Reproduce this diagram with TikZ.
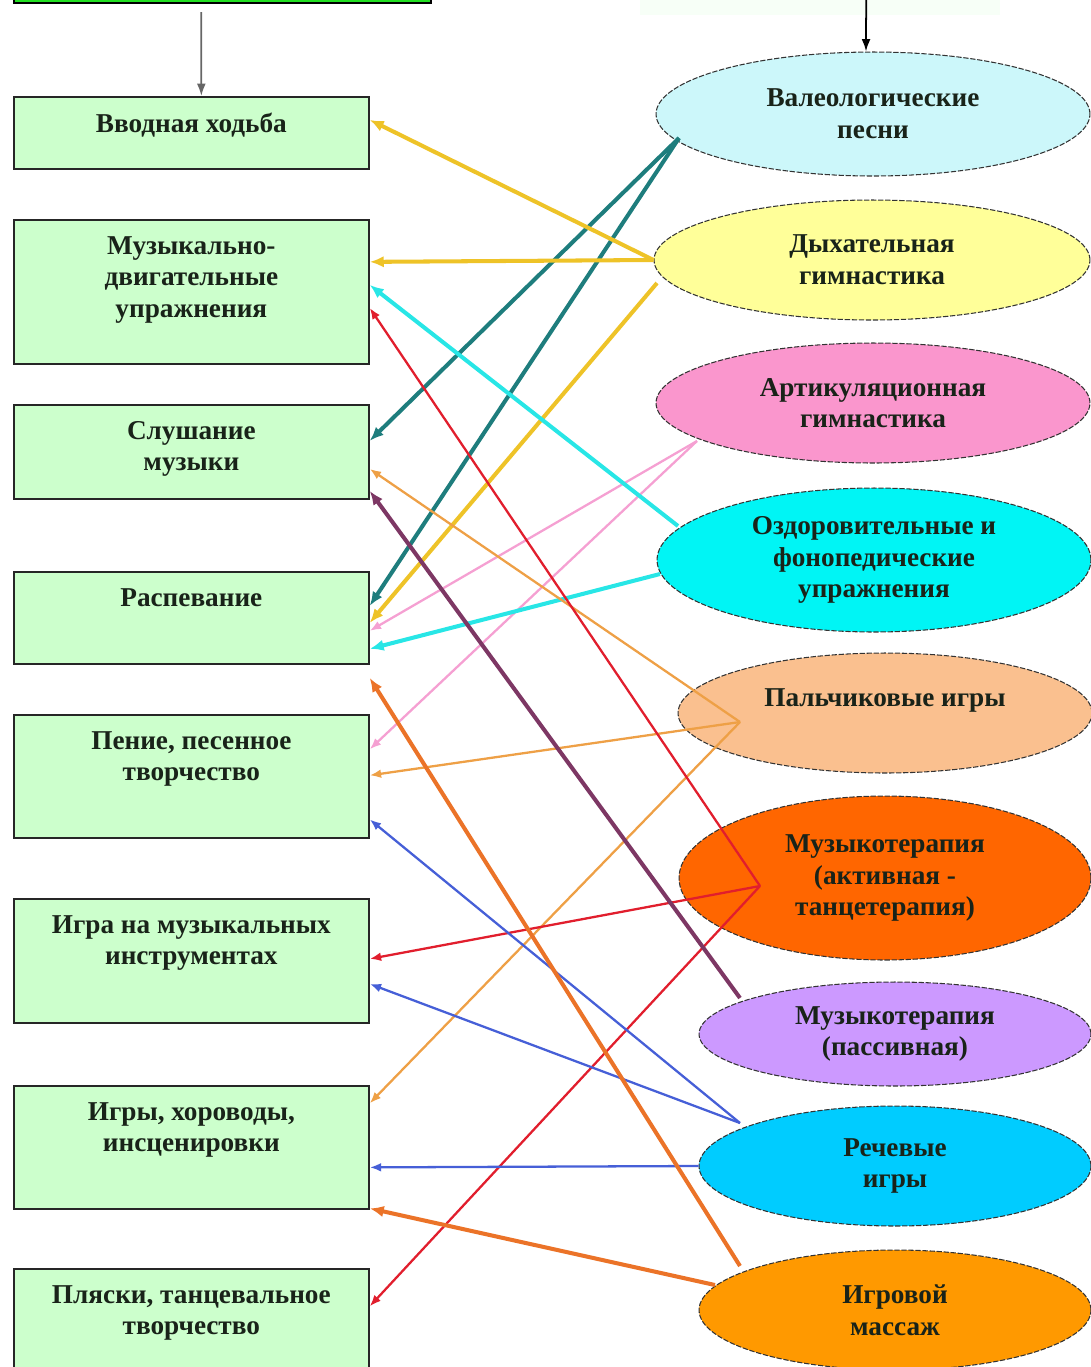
\documentclass[tikz,border=0pt]{standalone}
\usepackage{fontspec}
\setmainfont{Liberation Serif}
\usetikzlibrary{shapes.geometric,arrows.meta,calc}
\definecolor{boxfill}{RGB}{204,255,204}
\definecolor{headfill}{RGB}{34,224,34}
\definecolor{ink}{RGB}{25,35,25}
\definecolor{valeo}{RGB}{204,247,250}
\definecolor{breath}{RGB}{255,255,153}
\definecolor{artic}{RGB}{250,150,205}
\definecolor{phono}{RGB}{0,245,245}
\definecolor{finger}{RGB}{250,192,143}
\definecolor{active}{RGB}{255,102,0}
\definecolor{passive}{RGB}{204,153,255}
\definecolor{speech}{RGB}{0,204,255}
\definecolor{massage}{RGB}{255,153,0}
\definecolor{lnteal}{RGB}{30,125,125}
\definecolor{lngold}{RGB}{238,195,40}
\definecolor{lnpink}{RGB}{245,160,210}
\definecolor{lncyan}{RGB}{40,230,230}
\definecolor{lnpeach}{RGB}{238,160,70}
\definecolor{lnred}{RGB}{225,30,45}
\definecolor{lnplum}{RGB}{125,55,100}
\definecolor{lnblue}{RGB}{70,95,215}
\definecolor{lnorange}{RGB}{235,115,40}
\newcommand{\boxlines}[2]{\parbox[c][#1][t]{7.1cm}{\centering\vspace*{9.3pt}#2}}

\begin{document}
\begin{tikzpicture}[x=0.02cm,y=-0.02cm,
    every node/.style={font=\fontsize{15.5}{18}\selectfont\bfseries, text=ink},
    box/.style={draw=black!85, line width=1pt, fill=boxfill, inner sep=0pt, anchor=north west},
    oval/.style={ellipse, draw=black!80, line width=0.6pt, dash pattern=on 3pt off 1pt, align=center, inner sep=0pt},
    fat/.style={line width=2.3pt, -{Latex[length=8pt,width=6.5pt]}},
    slim/.style={line width=1.3pt, -{Latex[length=6.5pt,width=5pt]}}]
    \useasboundingbox (0,0) rectangle (1091,1367);
    \node [draw=black, line width=1pt, fill=headfill, minimum width=8.34cm, minimum height=1cm, anchor=south west] (top) at (13,4) {};
    \node [fill=green!3, minimum width=7.2cm, minimum height=1cm, anchor=south west] (topR) at (640,15) {};
    \node [box] (b1) at (13,96) {\boxlines{1.44cm}{Вводная ходьба}};
    \node [box] (b2) at (13,219) {\boxlines{2.88cm}{Музыкально-\\двигательные\\упражнения}};
    \node [box] (b3) at (13,404) {\boxlines{1.88cm}{Слушание\\музыки}};
    \node [box] (b4) at (13,571) {\boxlines{1.84cm}{Распевание}};
    \node [box] (b5) at (13,714) {\boxlines{2.46cm}{Пение, песенное\\творчество}};
    \node [box] (b6) at (13,898) {\boxlines{2.48cm}{Игра на музыкальных\\инструментах}};
    \node [box] (b7) at (13,1085) {\boxlines{2.46cm}{Игры, хороводы,\\инсценировки}};
    \node [box] (b8) at (13,1268) {\boxlines{2.5cm}{Пляски, танцевальное\\творчество}};
    \node [oval, fill=valeo, minimum width=8.68cm, minimum height=2.48cm] (e1) at (873,114) {Валеологические\\песни};
    \node [oval, fill=breath, minimum width=8.72cm, minimum height=2.4cm] (e2) at (872,260) {Дыхательная\\гимнастика};
    \node [oval, fill=artic, minimum width=8.68cm, minimum height=2.4cm] (e3) at (873,403) {Артикуляционная\\гимнастика};
    \node [oval, fill=phono, minimum width=8.68cm, minimum height=2.88cm] (e4) at (874,560) {Оздоровительные и\\фонопедические\\упражнения};
    \node [oval, fill=finger, minimum width=8.28cm, minimum height=2.4cm] (e5) at (885,713) {Пальчиковые игры\\ \mbox{}};
    \node [oval, fill=active, minimum width=8.24cm, minimum height=3.28cm] (e6) at (885,878) {Музыкотерапия\\(активная -\\танцетерапия)};
    \node [oval, fill=passive, minimum width=7.84cm, minimum height=2.08cm] (e7) at (895,1034) {Музыкотерапия\\(пассивная)};
    \node [oval, fill=speech, minimum width=7.84cm, minimum height=2.4cm] (e8) at (895,1166) {Речевые\\игры};
    \node [oval, fill=massage, minimum width=7.84cm, minimum height=2.4cm] (e9) at (895,1310) {Игровой\\массаж};
    \draw [black!60, line width=1pt, -{Latex[length=7pt,width=5pt]}] ($(top.south)+(-21,8)$) -- ($(b1.north)+(10,0)$);
    \draw [black, line width=1pt, -{Latex[length=7pt,width=5pt]}] ($(topR.north)+(46,0)$) -- ($(e1.north)+(-7,0)$);
    \draw [fat, lnteal] ($(e1.center)+(-194,24)$) -- ($(b3.east)+(0,-11)$);
    \draw [fat, lnteal] ($(e1.center)+(-194,24)$) -- ($(b4.east)+(0,-12)$);
    \draw [fat, lngold] (e2.west) -- ($(b1.east)+(0,-13)$);
    \draw [fat, lngold] (e2.west) -- ($(b2.east)+(0,-30)$);
    \draw [fat, lngold] ($(e2.center)+(-215,23)$) -- ($(b4.east)+(0,5)$);
    \draw [slim, lnpink] ($(e3.center)+(-176,38)$) -- ($(b4.east)+(0,13)$);
    \draw [slim, lnpink] ($(e3.center)+(-176,38)$) -- ($(b5.east)+(0,-27)$);
    \draw [fat, lncyan] ($(e4.center)+(-196,-34)$) -- ($(b2.east)+(0,-7)$);
    \draw [fat, lncyan] ($(e4.center)+(-214,14)$) -- ($(b4.east)+(0,31)$);
    \draw [slim, lnpeach] ($(e5.center)+(-145,9)$) -- ($(b3.east)+(0,17)$);
    \draw [slim, lnpeach] ($(e5.center)+(-145,9)$) -- ($(b5.east)+(0,-1)$);
    \draw [slim, lnpeach] ($(e5.center)+(-145,9)$) -- ($(b7.east)+(0,-44)$);
    \draw [slim, lnred] ($(e6.center)+(-125,8)$) -- ($(b2.east)+(0,16)$);
    \draw [slim, lnred] ($(e6.center)+(-125,8)$) -- ($(b6.east)+(0,-2)$);
    \draw [slim, lnred] ($(e6.center)+(-125,8)$) -- ($(b8.east)+(0,-25)$);
    \draw [fat, lnplum] ($(e7.center)+(-155,-36)$) -- ($(b3.east)+(0,39)$);
    \draw [slim, lnblue] ($(e8.center)+(-155,-43)$) -- ($(b5.east)+(0,43)$);
    \draw [slim, lnblue] ($(e8.center)+(-155,-43)$) -- ($(b6.east)+(0,23)$);
    \draw [slim, lnblue] (e8.west) -- ($(b7.east)+(0,20)$);
    \draw [fat, lnorange] ($(e9.center)+(-155,-44)$) -- ($(b4.east)+(0,60)$);
    \draw [fat, lnorange] ($(e9.center)+(-180,-25)$) -- ($(b7.east)+(0,61)$);
\end{tikzpicture}
\end{document}
